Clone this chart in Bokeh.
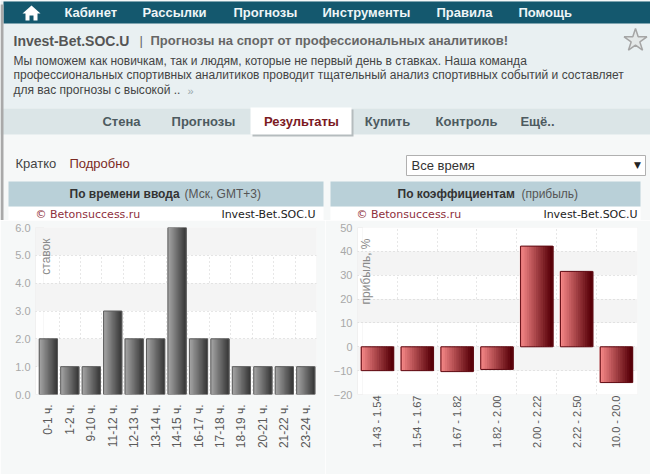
import numpy as np
from bokeh.core.properties import value
from bokeh.embed import file_html
from bokeh.layouts import column, row
from bokeh.models import BoxAnnotation, FixedTicker, Label, NumeralTickFormatter, Range1d
from bokeh.plotting import figure
from bokeh.resources import INLINE

nav_items = ["Кабинет", "Рассылки", "Прогнозы", "Инструменты", "Правила", "Помощь"]
tab_items = ["Стена", "Прогнозы", "Результаты", "Купить", "Контроль", "Ещё.."]

time_labels = ["0-1 ч.", "1-2 ч.", "9-10 ч.", "11-12 ч.", "12-13 ч.", "13-14 ч.", "14-15 ч.",
               "16-17 ч.", "17-18 ч.", "18-19 ч.", "20-21 ч.", "21-22 ч.", "23-24 ч."]
time_values = [2, 1, 1, 3, 2, 2, 6, 2, 2, 1, 1, 1, 1]
time_ticks = [0, 1, 2, 3, 4, 5, 6]

odds_labels = ["1.43 - 1.54", "1.54 - 1.67", "1.67 - 1.82", "1.82 - 2.00",
               "2.00 - 2.22", "2.22 - 2.50", "10.0 - 20.0"]
odds_values = [-10, -10, -10.4, -9.5, 42.2, 31.6, -15]
odds_ticks = [-20, -10, 0, 10, 20, 30, 40, 50]

PAGE = "#f6f8f8"
HEADER_H = 220
SANS = value("Liberation Sans")
WIDE = value("DejaVu Sans")


def blend(c1, c2, t):
    c = [round(a + (b - a) * t) for a, b in zip(c1, c2)]
    return "#%02x%02x%02x" % tuple(c)


def put_text(p, x, y, text, size, color, style="normal", font=SANS, align="left"):
    p.text([x], [y], text=[text], text_font=font, text_font_size="%dpx" % size, text_color=color,
           text_font_style=style, text_align=align, text_baseline="middle")


def make_header():
    p = figure(width=650, height=HEADER_H, x_range=Range1d(0, 650), y_range=Range1d(HEADER_H, 0),
               output_backend="svg", toolbar_location=None, min_border=0, outline_line_color=None,
               background_fill_color=PAGE, border_fill_color=PAGE)
    p.axis.visible = False
    p.grid.visible = False

    p.quad(left=[0], right=[650], top=[0], bottom=[108], color="#e9f0f2", line_color=None)
    p.quad(left=[3], right=[650], top=[1], bottom=[23], color="#14586e", line_color=None)
    p.quad(left=[0], right=[650], top=[108], bottom=[134], color="#dbe5e7", line_color=None)
    p.quad(left=[0], right=[3], top=[4], bottom=[HEADER_H], color="#a9a9a9", line_color=None)

    # home icon
    p.patch([22, 31, 40, 37, 37, 33, 33, 29, 29, 25, 25],
            [13, 5, 13, 13, 20, 20, 15, 15, 20, 20, 13], color="white", line_color=None)

    for x, item in zip([64, 142, 233, 322, 436, 518], nav_items):
        put_text(p, x, 12, item, 13, "#eef5f7", "bold")

    put_text(p, 13, 40, "Invest-Bet.SOC.U", 14, "#555555", "bold")
    put_text(p, 139, 40, "|", 13, "#666666")
    put_text(p, 150, 40, "Прогнозы на спорт от профессиональных аналитиков!", 13, "#666666", "bold")
    put_text(p, 13, 60, "Мы поможем как новичкам, так и людям, которые не первый день в ставках. Наша команда", 12, "#444444")
    put_text(p, 13, 74, "профессиональных спортивных аналитиков проводит тщательный анализ спортивных событий и составляет", 12, "#444444")
    put_text(p, 13, 89, "для вас прогнозы с высокой ..", 12, "#444444")
    put_text(p, 187, 90, "»", 11, "#9aa8ad")
    p.scatter([635], [40], marker="star", size=24, fill_color="#e4e8e8", line_color="#a5a5a5", line_width=1.5)

    # active tab with its shadow
    p.quad(left=[252], right=[353], top=[109], bottom=[136], color="#b5bcbe", line_color=None)
    p.quad(left=[250], right=[351], top=[107], bottom=[134], color="white", line_color=None)
    for x, item in zip([121, 203, 301, 387, 466, 537], tab_items):
        color = "#7b1a1f" if item == "Результаты" else "#4d5a5f"
        put_text(p, x, 121, item, 13, color, "bold", align="center")

    put_text(p, 15, 163, "Кратко", 13, "#444444")
    put_text(p, 69, 163, "Подробно", 13, "#7b2a24")

    p.quad(left=[406], right=[645], top=[155], bottom=[175], fill_color="white", line_color="#b0b0b0")
    put_text(p, 411, 165, "Все время", 13, "#333333")
    put_text(p, 637, 164, "▼", 9, "#222222", font=WIDE, align="center")

    # tops of the two panels, the charts below carry on from here
    p.quad(left=[8, 330], right=[323, 640], top=[206, 206], bottom=[HEADER_H, HEADER_H],
           color="white", line_color=None)
    p.quad(left=[8, 330], right=[323, 640], top=[181, 181], bottom=[206, 206], color="#b9d0d8", line_color=None)
    put_text(p, 69, 193, "По времени ввода", 12, "#333333", "bold")
    put_text(p, 184, 193, "(Мск, GMT+3)", 12, "#555555")
    put_text(p, 397, 193, "По коэффициентам", 12, "#333333", "bold")
    put_text(p, 521, 193, "(прибыль)", 12, "#555555")

    for x0, x1 in [(35, 315), (356, 637)]:
        put_text(p, x0, 213.5, "© Betonsuccess.ru", 11, "#8e2f3c", font=WIDE)
        put_text(p, x1, 213.5, "Invest-Bet.SOC.U", 11, "#222222", font=WIDE, align="right")
    return p


def make_chart(labels, values, ticks, grid_ticks, y_range, x_range, frame_left, frame_width, panel, bar_width,
               light, dark, outline, axis_title, title_x, label_size, standoff, tick_format=None):
    n = len(labels)
    p = figure(width=325, height=474 - HEADER_H, x_range=Range1d(*x_range), y_range=Range1d(*y_range),
               output_backend="svg", toolbar_location=None, frame_width=frame_width, frame_height=167,
               min_border_left=frame_left, min_border_right=325 - frame_left - frame_width,
               min_border_top=7, min_border_bottom=80, outline_line_color="#f0f0f0",
               background_fill_color="white", border_fill_color=PAGE)

    p.add_layout(BoxAnnotation(left=panel[0], right=panel[1], top=-1, bottom=460 - HEADER_H,
                               left_units="screen", right_units="screen", top_units="screen",
                               bottom_units="screen", fill_color="white", fill_alpha=1,
                               line_color="#e3e6e6", level="image"))

    xs = np.arange(n) + 0.5
    p.xaxis.ticker = FixedTicker(ticks=list(xs))
    p.xaxis.major_label_overrides = {float(x): lab for x, lab in zip(xs, labels)}
    p.xaxis.major_label_orientation = np.pi / 2
    p.xaxis.major_label_text_font = "Liberation Sans"
    p.xaxis.major_label_text_font_size = label_size
    p.xaxis.major_label_text_color = "#5a5a5a"
    p.xaxis.major_label_standoff = standoff
    p.yaxis.ticker = FixedTicker(ticks=ticks)
    p.yaxis.major_label_text_font = "Liberation Sans"
    p.yaxis.major_label_text_font_size = "11px"
    p.yaxis.major_label_text_color = "#a8a8a8"
    p.yaxis.major_label_standoff = 5
    if tick_format:
        p.yaxis.formatter = NumeralTickFormatter(format=tick_format)
    p.axis.axis_line_color = None
    p.axis.major_tick_line_color = None
    p.axis.minor_tick_line_color = None
    p.axis.major_tick_out = 0

    p.xgrid.ticker = FixedTicker(ticks=list(range(1, n)))
    p.ygrid.ticker = FixedTicker(ticks=grid_ticks)
    p.grid.grid_line_color = "#cfcfcf"
    p.grid.grid_line_dash = "1 3"
    p.ygrid.band_fill_color = "#f4f4f4"
    p.ygrid.band_fill_alpha = 1

    # the bars are shaded left to right, so every bar is a row of thin strips
    strips = 14
    for i in range(strips):
        offset = ((i + 0.5) / strips - 0.5) * bar_width
        p.vbar(x=xs + offset, top=values, bottom=0, width=bar_width / strips * 1.6,
               color=blend(light, dark, i / (strips - 1)), line_color=None)
    p.vbar(x=xs, top=values, bottom=0, width=bar_width, fill_color=None,
           line_color=outline, line_width=1)

    # label positions count from the frame's lower left corner, and it is clipped to the frame
    p.add_layout(Label(x=title_x, y=156, x_units="screen", y_units="screen", text=axis_title,
                       text_font="Liberation Sans", text_font_size="12px", text_color="#8a8a8a",
                       angle=np.pi / 2, text_align="right", text_baseline="middle"))
    return p


left = make_chart(time_labels, time_values, time_ticks, [-1, 0, 1, 2, 3, 4, 5, 6], (0, 6), (-0.1, 13),
                  35, 281, (8, 323), 0.85, (165, 165, 165), (58, 58, 58), "#5c5c5c",
                  "ставок", 10, "12px", 10, "0.0")
right = make_chart(odds_labels, odds_values, odds_ticks, [-30, -20, -10, 0, 10, 20, 30, 40, 50], (-20, 50), (0, 7.03),
                   32, 280, (5, 315), 0.81, (245, 135, 135), (88, 0, 8), "#5e0a12",
                   "прибыль, %", 8, "11px", 1)

page = column(make_header(), row(left, right, spacing=0), spacing=0)
open("out.html", "w").write(file_html(page, INLINE))
